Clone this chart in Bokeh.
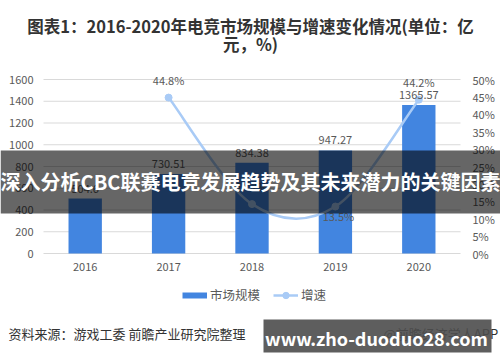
import numpy as np
from bokeh.plotting import figure
from bokeh.models import (Range1d, LinearAxis, PrintfTickFormatter, FixedTicker,
                          Label, BoxAnnotation, Legend, LegendItem)
from bokeh.core.properties import value
from bokeh.embed import file_html
from bokeh.resources import INLINE

# ---- data ----
years = ["2016", "2017", "2018", "2019", "2020"]
market = [504.6, 730.51, 834.38, 947.27, 1365.57]
market_labels = ["504.6", "730.51", "834.38", "947.27", "1365.57"]
growth_years = ["2017", "2018", "2019", "2020"]
growth = [44.8, 14.2, 13.5, 44.2]
growth_labels = ["44.8%", "14.2%", "13.5%", "44.2%"]
growth_label_side = ["above", "above", "below", "above"]
left_ticks = [0, 200, 400, 600, 800, 1000, 1200, 1400, 1600]
right_ticks = [0, 5, 10, 15, 20, 25, 30, 35, 40, 45, 50]

title_1 = "图表1：2016-2020年电竞市场规模与增速变化情况(单位：亿"
title_2 = "元，%)"
source_text = "资料来源：游戏工委 前瞻产业研究院整理"
source_right = "@前瞻经济学人APP"
banner_text = "深入分析CBC联赛电竞发展趋势及其未来潜力的关键因素"
mark_text = "www.zho-duoduo28.com"

FONT = "Noto Sans CJK SC"
BAR = "#4285E0"
LINE = "#A9CBF6"
GREY = "#595959"
DARK = "#333333"

# ---- layout (pixels) ----
W, H = 500, 362
PL, PR, PT, PB = 43, 460, 79, 253       # plot area edges inside the canvas
n = len(years)
ux = (PR - PL) / n                       # px per category
uy = (PB - PT) / left_ticks[-1]          # px per market unit
up_ = (PB - PT) / right_ticks[-1]        # px per percent

x_range = Range1d(-0.5 - PL / ux, n - 0.5 + (W - PR) / ux)
y_range = Range1d(-(H - PB) / uy, left_ticks[-1] + PT / uy)
pct_range = Range1d(-(H - PB) / up_, right_ticks[-1] + PT / up_)

def sx(rx):
    return rx

def sy(ry):
    return H - ry

x_idx = list(range(n))
gx = [years.index(y) for y in growth_years]

p = figure(width=W, height=H, output_backend="svg", toolbar_location=None,
           x_range=x_range, y_range=y_range,
           min_border_left=0, min_border_right=0, min_border_top=0,
           min_border_bottom=0)
p.title.visible = False
p.extra_y_ranges = {"pct": pct_range}
p.outline_line_color = None
p.background_fill_color = "white"
p.border_fill_color = "white"
p.xgrid.visible = False
p.ygrid.visible = False

def style_axis(ax, standoff):
    ax.axis_line_color = None
    ax.major_tick_line_color = None
    ax.minor_tick_line_color = None
    ax.major_tick_out = 0
    ax.major_tick_in = 0
    ax.major_label_text_font = FONT
    ax.major_label_text_font_size = "11px"
    ax.major_label_text_color = GREY
    ax.major_label_standoff = standoff

# horizontal gridlines over the plot width
p.segment(x0=[-0.5] * len(left_ticks), x1=[n - 0.5] * len(left_ticks),
          y0=left_ticks, y1=left_ticks, line_color="#D9D9D9", line_width=1)

yl = p.yaxis[0]
yl.ticker = FixedTicker(ticks=left_ticks)
yl.fixed_location = -0.5
style_axis(yl, 10)

xa = p.xaxis[0]
xa.ticker = FixedTicker(ticks=x_idx)
xa.major_label_overrides = {i: y for i, y in zip(x_idx, years)}
xa.fixed_location = 1e-6
style_axis(xa, 9)

yr = LinearAxis(y_range_name="pct", ticker=FixedTicker(ticks=right_ticks),
                formatter=PrintfTickFormatter(format="%d%%"),
                fixed_location=n - 0.5)
style_axis(yr, 12)
p.add_layout(yr, "right")

# bars
p.vbar(x=x_idx, top=market, width=0.4, bottom=0, fill_color=BAR, line_color=None)

# smoothed growth line (Catmull-Rom as cubic Bezier segments)
P = np.column_stack([gx, growth]).astype(float)
Pe = np.vstack([P[0], P, P[-1]])
x0, y0, x1, y1, cx0, cy0, cx1, cy1 = ([] for _ in range(8))
for i in range(len(P) - 1):
    a, b, c, d = Pe[i], Pe[i + 1], Pe[i + 2], Pe[i + 3]
    c1 = b + (c - a) / 6.0
    c2 = c - (d - b) / 6.0
    x0.append(b[0]); y0.append(b[1]); x1.append(c[0]); y1.append(c[1])
    cx0.append(c1[0]); cy0.append(c1[1]); cx1.append(c2[0]); cy1.append(c2[1])
p.bezier(x0=x0, y0=y0, x1=x1, y1=y1, cx0=cx0, cy0=cy0, cx1=cx1, cy1=cy1,
         line_color=LINE, line_width=2.5, y_range_name="pct")
pts = p.scatter(x=gx, y=growth, size=7, marker="circle", fill_color=LINE,
                line_color=LINE, y_range_name="pct")

# data labels
p.text(x=x_idx, y=market, text=market_labels, text_align="center",
       text_baseline="bottom", y_offset=-6, text_font=value(FONT),
       text_font_size="11px", text_color=GREY)
up = [i for i, s in enumerate(growth_label_side) if s == "above"]
dn = [i for i, s in enumerate(growth_label_side) if s == "below"]
p.text(x=[gx[i] for i in up], y=[growth[i] for i in up],
       text=[growth_labels[i] for i in up], text_align="center",
       text_baseline="bottom", y_offset=-10, text_font=value(FONT),
       text_font_size="11px", text_color=GREY, y_range_name="pct")
p.text(x=[gx[i] for i in dn], y=[growth[i] for i in dn],
       text=[growth_labels[i] for i in dn], text_align="center",
       text_baseline="top", y_offset=1, x_offset=3, text_font=value(FONT),
       text_font_size="11px", text_color=GREY, y_range_name="pct")

# legend (proxies with no visible data)
bar_proxy = p.line(x=[np.nan], y=[np.nan], line_color=BAR, line_width=6)
line_proxy = p.line(x=[np.nan], y=[np.nan], line_color=LINE, line_width=2.5)
legend = Legend(items=[LegendItem(label="市场规模", renderers=[bar_proxy]),
                       LegendItem(label="增速", renderers=[line_proxy, pts])],
                orientation="horizontal", location=(sx(182), sy(304)),
                padding=0, margin=0, spacing=13, label_standoff=3,
                glyph_width=25, glyph_height=16, label_height=16,
                label_text_font=FONT, label_text_font_size="12.5px",
                label_text_color=GREY, border_line_color=None,
                background_fill_alpha=0)
p.add_layout(legend, "center")

# titles and notes
def add_label(rx, ry, text, size, color, bold=False, align="center", level="annotation"):
    p.add_layout(Label(x=sx(rx), y=sy(ry), x_units="screen", y_units="screen",
                       text=text, text_align=align, text_baseline="middle",
                       text_font=FONT, text_font_size=size, text_color=color,
                       text_font_style="bold" if bold else "normal", level=level))

add_label(250, 25, title_1, "16.5px", DARK, bold=True)
add_label(250, 43, title_2, "16.5px", DARK, bold=True)
add_label(8, 333, source_text, "13px", DARK, align="left")
add_label(383, 333, source_right, "13px", DARK, align="left")

# overlay banner
p.add_layout(BoxAnnotation(left=sx(0), right=sx(W), top=sy(150), bottom=sy(213),
                           left_units="screen", right_units="screen",
                           top_units="screen", bottom_units="screen",
                           fill_color="black", fill_alpha=0.6, line_color=None,
                           level="overlay"))
add_label(250, 181, banner_text, "20px", "white", bold=True, level="overlay")

# watermark box
p.add_layout(BoxAnnotation(left=sx(263), right=sx(491), top=sy(319), bottom=sy(352),
                           left_units="screen", right_units="screen",
                           top_units="screen", bottom_units="screen",
                           fill_color="#4d4d4d", fill_alpha=0.9, line_color=None,
                           level="overlay"))
add_label(376, 337, mark_text, "18px", "white", bold=True, level="overlay")

open("out.html", "w").write(file_html(p, INLINE))
